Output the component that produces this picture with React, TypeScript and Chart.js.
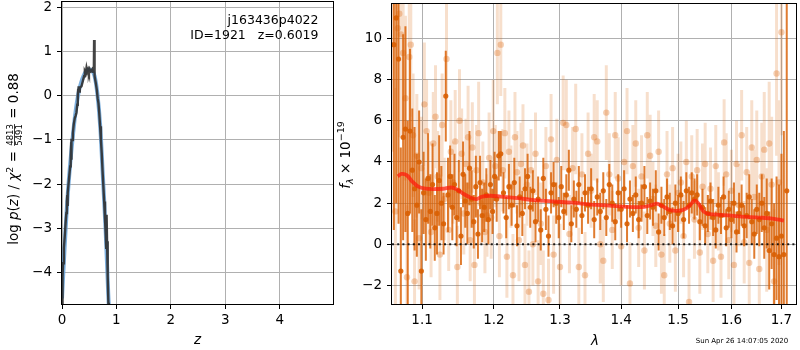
import React, { useEffect, useRef } from "react";
import { Chart, registerables } from "chart.js";
Chart.register(...registerables);

const FAM = "'DejaVu Sans', sans-serif";

// ---------- Left panel: log p(z) ----------
const zTicks = [0, 1, 2, 3, 4];
const logPTicks = [-4, -3, -2, -1, 0, 1, 2];
const zSmooth = [0, 0.05, 0.1, 0.15, 0.2, 0.25, 0.3, 0.35, 0.4, 0.45, 0.5, 0.55, 0.6, 0.65, 0.7, 0.75, 0.8, 0.85, 0.87];
const logPSmooth = [-4.6, -3.4, -2.35, -1.55, -0.9, -0.35, 0.05, 0.3, 0.47, 0.57, 0.6, 0.58, 0.45, 0.05, -0.65, -1.8, -3.0, -4.5, -5.0];
const zNoisy = [
  0.0, 0.01, 0.02, 0.035, 0.05, 0.065, 0.08, 0.09, 0.097, 0.1,
  0.11, 0.12, 0.135, 0.15, 0.16, 0.168, 0.172, 0.176, 0.185, 0.2,
  0.215, 0.235, 0.25, 0.265, 0.28, 0.29, 0.296, 0.305, 0.315, 0.327,
  0.34, 0.358, 0.375, 0.389, 0.405, 0.42, 0.435, 0.45, 0.465, 0.48,
  0.495, 0.51, 0.525, 0.54, 0.555, 0.57, 0.585, 0.59, 0.594, 0.598,
  0.605, 0.62, 0.64, 0.655, 0.67, 0.685, 0.7, 0.715, 0.73, 0.745,
  0.76, 0.775, 0.79, 0.805, 0.812, 0.818, 0.822, 0.828, 0.835, 0.845,
  0.852, 0.86,
];
const logPNoisy = [
  -4.75, -4.1, -3.8, -3.45, -3.2, -2.9, -2.66, -2.4, -2.25, -2.5,
  -2.2, -2.0, -1.8, -1.6, -1.4, -1.05, -1.45, -1.0, -1.0, -0.84,
  -0.65, -0.5, -0.45, -0.38, -0.2, 0.0, 0.14, 0.22, 0.1, 0.18,
  0.2, 0.22, 0.3, 0.37, 0.45, 0.56, 0.52, 0.64, 0.55, 0.6,
  0.52, 0.6, 0.55, 0.56, 0.6, 0.55, 0.58, 1.27, 1.25, 0.56,
  0.45, 0.3, 0.14, -0.05, -0.16, -0.4, -0.69, -1.0, -1.3, -1.7,
  -2.05, -2.4, -2.8, -3.2, -3.45, -2.75, -2.7, -3.3, -3.57, -4.1,
  -4.7, -5.2,
];
const objName = "j163436p4022";
const objInfo = "ID=1921   z=0.6019";

// ---------- Right panel: spectrum ----------
const lamTicks = [1.1, 1.2, 1.3, 1.4, 1.5, 1.6, 1.7];
const fluxTicks = [-2, 0, 2, 4, 6, 8, 10];
const lamDark = [
  1.063, 1.066, 1.069, 1.072, 1.075, 1.078, 1.081, 1.084, 1.087, 1.09,
  1.093, 1.096, 1.099, 1.102, 1.105, 1.108, 1.111, 1.114, 1.117, 1.12,
  1.123, 1.126, 1.129, 1.132, 1.135, 1.138, 1.141, 1.144, 1.147, 1.15,
  1.153, 1.156, 1.159, 1.162, 1.165, 1.168, 1.171, 1.174, 1.177, 1.18,
  1.183, 1.186, 1.189, 1.192, 1.195, 1.198, 1.201, 1.204, 1.207, 1.21,
  1.214, 1.218, 1.222, 1.226, 1.23, 1.234, 1.238, 1.242, 1.246, 1.25,
  1.254, 1.258, 1.262, 1.266, 1.27, 1.274, 1.278, 1.282, 1.286, 1.29,
  1.294, 1.298, 1.302, 1.306, 1.31, 1.314, 1.318, 1.322, 1.326, 1.33,
  1.335, 1.34, 1.345, 1.35, 1.355, 1.36, 1.365, 1.37, 1.375, 1.38,
  1.385, 1.39, 1.395, 1.4, 1.405, 1.41, 1.415, 1.42, 1.425, 1.43,
  1.435, 1.44, 1.445, 1.45, 1.455, 1.46, 1.465, 1.47, 1.475, 1.48,
  1.485, 1.49, 1.495, 1.5, 1.505, 1.51, 1.515, 1.52, 1.525, 1.53,
  1.535, 1.54, 1.545, 1.55, 1.555, 1.56, 1.565, 1.57, 1.575, 1.58,
  1.585, 1.59, 1.595, 1.6, 1.605, 1.61, 1.615, 1.62, 1.625, 1.63,
  1.635, 1.64, 1.645, 1.65, 1.655, 1.66, 1.665, 1.67, 1.675, 1.68,
  1.685, 1.69, 1.695, 1.7, 1.705, 1.711,
];
const fluxDark = [
  9.7, 11.0, 9.0, -1.3, 5.2, 5.6, 1.5, 5.5, 3.6, 2.7,
  1.9, 4.0, -1.3, 2.5, 1.2, 3.2, 1.6, 2.9, 0.8, 1.5,
  3.1, 2.0, 1.0, 7.2, 2.4, 3.3, 1.8, 2.9, 1.3, 2.6,
  0.4, 3.4, 2.1, 1.5, 3.7, 2.2, 1.1, 2.8, 0.5, 3.0,
  1.4, 1.8, 2.4, 1.2, 2.9, 1.6, 3.3, 2.2, 4.3, 4.4,
  2.5, 1.3, 2.8, 1.9, 3.0, 0.9, 2.3, 1.5, 2.7, 3.3,
  1.8, 2.6, 1.1, 2.2, 0.7, 3.2, 1.7, 0.4, 2.5, 2.9,
  2.0, 1.3, 2.8, 1.6, 2.4, 3.6, 1.0, 2.2, 1.7, 2.9,
  1.4, 2.5, 1.9, 2.7, 1.2, 2.3, 1.6, 2.6, 1.3, 2.9,
  2.0, 1.1, 2.5, 1.7, 2.7, 1.0, 2.2, 1.5, 2.4, 1.2,
  2.0, 2.8, 1.4, 2.1, 1.8, 2.6, 0.6, 1.9, 1.3, 2.3,
  1.6, 0.9, 2.0, 1.5, 2.4, 1.2, 2.6, 1.9, 2.5, 2.2,
  2.4, 1.1, 1.8, 0.9, 1.5, 2.1, 1.3, 0.7, 1.9, 1.4,
  2.3, 0.8, 1.7, 1.2, 2.0, 0.6, 1.5, 1.9, 0.9, 1.4,
  2.3, 1.1, 0.5, 1.7, 1.2, 2.0, 0.8, 1.5, -0.3, 1.0,
  -0.5, 0.3, -0.6, 0.4, -0.5, 2.6,
];
const errDark = [
  9, 9, 8, 6, 5, 5, 4.5, 4, 3, 3,
  2.5, 2.5, 3, 2, 2, 2.2, 1.8, 2, 1.6, 2,
  2.2, 1.8, 1.5, 2.2, 1.8, 1.5, 1.6, 1.5, 1.4, 1.5,
  1.4, 1.6, 1.3, 1.5, 1.8, 1.4, 1.3, 1.5, 1.2, 1.3,
  1.3, 1.2, 1.3, 1.2, 1.2, 1.1, 1.2, 1.1, 1.2, 1.1,
  1.0, 1.0, 1.1, 1.0, 1.2, 1.0, 1.0, 1.1, 1.0, 1.1,
  1.0, 1.0, 1.0, 1.1, 1.0, 1.0, 1.0, 1.0, 1.0, 1.1,
  1.0, 1.0, 1.0, 0.9, 1.0, 1.0, 0.9, 0.9, 0.9, 0.9,
  0.9, 0.9, 0.9, 1.0, 0.9, 0.9, 0.9, 0.9, 0.9, 1.0,
  0.9, 0.9, 0.9, 0.9, 0.9, 0.9, 0.9, 0.9, 0.9, 0.9,
  0.9, 1.0, 0.9, 0.9, 0.9, 1.0, 0.9, 0.9, 0.9, 0.9,
  0.9, 0.9, 0.9, 0.9, 0.9, 0.9, 0.9, 0.9, 1.0, 1.0,
  1.0, 0.9, 0.9, 0.9, 0.9, 0.9, 0.9, 0.9, 0.9, 0.9,
  1.0, 0.9, 0.9, 0.9, 1.0, 1.0, 1.0, 1.0, 1.0, 1.1,
  1.1, 1.1, 1.2, 1.2, 1.3, 1.4, 1.5, 1.7, 1.9, 2.2,
  2.5, 3, 3.5, 4, 6, 12,
];
const lamLight = [
  1.062, 1.065, 1.068, 1.07, 1.072, 1.075, 1.078, 1.08, 1.083, 1.085,
  1.088, 1.09, 1.093, 1.096, 1.099, 1.103, 1.106, 1.109, 1.112, 1.115,
  1.118, 1.121, 1.124, 1.127, 1.13, 1.133, 1.136, 1.139, 1.142, 1.145,
  1.148, 1.151, 1.154, 1.157, 1.16, 1.163, 1.166, 1.169, 1.172, 1.175,
  1.178, 1.181, 1.184, 1.187, 1.19, 1.193, 1.196, 1.199, 1.202, 1.205,
  1.208, 1.21, 1.213, 1.216, 1.219, 1.222, 1.225, 1.228, 1.231, 1.234,
  1.237, 1.24, 1.243, 1.246, 1.249, 1.252, 1.255, 1.258, 1.262, 1.266,
  1.27, 1.274, 1.278, 1.282, 1.286, 1.29, 1.295, 1.3, 1.305, 1.31,
  1.315, 1.32, 1.325, 1.33, 1.335, 1.34, 1.345, 1.35, 1.355, 1.36,
  1.365, 1.37, 1.375, 1.38, 1.385, 1.39, 1.395, 1.4, 1.405, 1.41,
  1.415, 1.42, 1.425, 1.43, 1.435, 1.44, 1.445, 1.45, 1.455, 1.46,
  1.465, 1.47, 1.475, 1.48, 1.485, 1.49, 1.495, 1.5, 1.505, 1.51,
  1.515, 1.52, 1.525, 1.53, 1.535, 1.54, 1.545, 1.55, 1.555, 1.56,
  1.565, 1.57, 1.575, 1.58, 1.586, 1.59, 1.595, 1.6, 1.605, 1.61,
  1.615, 1.62, 1.625, 1.63, 1.635, 1.64, 1.645, 1.65, 1.655, 1.66,
  1.665, 1.67, 1.675, 1.68, 1.685, 1.69, 1.695, 1.7,
];
const fluxLight = [
  12.5, 1.6, 10.5, 11.2, 10.2, 9.3, 7.1, -1.6, 9.1, 9.7,
  5.3, -1.8, 4.3, 0.3, 3.7, 6.8, 5.5, 2.5, 0.6, 4.9,
  6.2, 3.3, -0.5, 5.8, 2.2, 9.0, 0.7, 4.5, 3.0, 5.0,
  -1.1, 6.0, 4.4, 1.5, 3.9, 5.2, 0.2, 4.7, -1.0, 3.6,
  5.4, 2.0, 3.0, 0.6, 1.4, 4.2, 1.3, 5.5, 3.8, 9.3,
  0.4, 9.7, 3.6, 5.4, -0.6, 4.5, 2.8, -1.5, 5.2, 3.5,
  0.2, 3.9, 4.8, -1.0, 2.9, -2.3, 3.6, 0.0, 4.4, -1.8,
  1.0, -2.4, 3.8, -2.7, 5.1, -0.5, 4.1, -1.1, 5.9, 5.8,
  0.5, 3.7, 5.6, -1.1, 3.4, -1.5, 4.4, 2.6, 5.2, 5.0,
  0.0, -0.8, 6.4, 3.4, 0.7, 5.3, 3.2, -0.1, 4.0, 5.5,
  -1.9, 3.8, 4.9, 0.8, 3.3, -0.3, 5.3, 4.3, 2.2, 0.9,
  4.5, -0.5, -1.5, 3.4, 1.0, 3.7, -0.3, 2.5, 3.0, 0.4,
  4.0, -2.8, 3.3, 1.2, 3.6, -0.4, 2.8, 3.9, 0.5, 2.7,
  -0.8, 3.8, 1.6, -0.6, 4.95, 3.4, 0.2, 2.6, -1.0, 3.9,
  1.9, 5.3, 0.1, 3.5, -0.9, 4.7, 2.3, 4.1, -1.2, 3.3,
  4.6, 0.7, 4.9, 2.9, -1.8, 8.3, 3.0, 10.3,
];
const errLight = [
  8, 6, 5, 6, 5, 4, 4, 3.5, 3.5, 3.5,
  3, 3, 3, 2.5, 2.5, 3, 2.5, 2.5, 2.2, 2.5,
  2.5, 2.2, 2.2, 2.5, 2, 3, 2, 2.5, 2, 2.5,
  2, 2.5, 2.2, 2, 2.2, 2.5, 2, 2.2, 2, 2.2,
  2.5, 2, 2, 2, 2, 2.2, 2, 2.5, 2, 2.5,
  2, 2.5, 2, 2.2, 2, 2, 2, 2, 2.2, 2,
  2, 2, 2, 2, 2, 2, 2, 2, 2, 2,
  2.0, 2.1, 1.9, 2.0, 2.2, 1.9, 2.0, 2.1, 2.3, 2.2,
  1.9, 2.0, 2.2, 1.9, 2.0, 2.1, 2.0, 1.8, 2.1, 2.0,
  1.9, 2.0, 2.3, 2.0, 1.9, 2.1, 2.0, 1.9, 2.0, 2.1,
  2.0, 2.0, 2.1, 1.9, 2.0, 1.9, 2.1, 2.0, 1.8, 2.0,
  2.0, 1.9, 2.0, 2.1, 1.9, 2.0, 2.0, 1.9, 2.0, 2.0,
  2.0, 2.1, 2.0, 1.9, 2.0, 2.0, 2.1, 2.0, 1.9, 2.0,
  2.0, 2.0, 1.9, 2.0, 2.1, 2.0, 1.9, 2.0, 2.0, 2.1,
  2, 2.2, 2, 2.2, 2.2, 2.3, 2.3, 2.4, 2.5, 2.6,
  2.8, 3, 3, 3.3, 3.5, 4, 4, 5,
];
const lamModel = [
  1.068, 1.073, 1.08, 1.087, 1.095, 1.105, 1.115, 1.128, 1.14, 1.148,
  1.158, 1.168, 1.175, 1.183, 1.195, 1.21, 1.235, 1.26, 1.29, 1.32,
  1.35, 1.38, 1.41, 1.44, 1.452, 1.462, 1.472, 1.486, 1.5, 1.51,
  1.52, 1.53, 1.537, 1.546, 1.556, 1.58, 1.62, 1.655, 1.685, 1.705,
];
const fluxModel = [
  3.3, 3.42, 3.35, 3.05, 2.8, 2.7, 2.68, 2.7, 2.76, 2.65,
  2.42, 2.25, 2.2, 2.32, 2.36, 2.32, 2.24, 2.15, 2.08, 2.02,
  1.93, 1.88, 1.82, 1.82, 1.9, 1.98, 1.85, 1.66, 1.63, 1.68,
  1.85, 2.12, 2.0, 1.62, 1.48, 1.43, 1.35, 1.3, 1.24, 1.15,
];
const zeroLine = [0, 0];
const dateStamp = "Sun Apr 26 14:07:05 2020";

// ---------- helpers ----------
const pts = (xs: number[], ys: number[]) => xs.map((x, i) => ({ x, y: ys[i] }));
function errSegs(xs: number[], ys: number[], es: number[]) {
  const out: any[] = [];
  xs.forEach((x, i) => {
    out.push({ x, y: ys[i] - es[i] }, { x, y: ys[i] + es[i] }, { x, y: null });
  });
  return out;
}
const fmtMinus = (v: any) => String(v).replace("-", "\u2212");

type Part = { t?: string; font: string; dy?: number; frac?: [string, string] };
function drawRich(ctx: CanvasRenderingContext2D, x: number, y: number, rot: number, parts: Part[]) {
  ctx.save();
  ctx.translate(x, y);
  ctx.rotate(rot);
  ctx.textBaseline = "alphabetic";
  ctx.fillStyle = "#000";
  const widths = parts.map((p) => {
    ctx.font = p.font;
    if (p.frac) return Math.max(ctx.measureText(p.frac[0]).width, ctx.measureText(p.frac[1]).width) + 2;
    return ctx.measureText(p.t || "").width;
  });
  const total = widths.reduce((a, b) => a + b, 0);
  let cx = -total / 2;
  parts.forEach((p, i) => {
    ctx.font = p.font;
    if (p.frac) {
      const w = widths[i];
      ctx.textAlign = "center";
      ctx.fillText(p.frac[0], cx + w / 2, -4.8);
      ctx.fillRect(cx + 1, -4.2, w - 2, 0.8);
      ctx.fillText(p.frac[1], cx + w / 2, 3.6);
      ctx.textAlign = "left";
    } else {
      ctx.textAlign = "left";
      ctx.fillText(p.t || "", cx, p.dy || 0);
    }
    cx += widths[i];
  });
  ctx.restore();
}

const F = (s: number) => `${s}px ${FAM}`;
const FI = (s: number) => `italic ${s}px ${FAM}`;

const framePlugin = {
  id: "frame",
  afterDatasetsDraw(chart: any) {
    const { ctx, chartArea: a } = chart;
    ctx.save();
    ctx.strokeStyle = "#000";
    ctx.lineWidth = 1;
    ctx.strokeRect(Math.round(a.left) - 0.5, Math.round(a.top) - 0.5, Math.round(a.right - a.left) + 1, Math.round(a.bottom - a.top) + 1);
    ctx.restore();
  },
};

function axisCommon(ticksArr: number[], fmt: (v: any) => string, pad: number) {
  return {
    afterBuildTicks: (s: any) => {
      s.ticks = ticksArr.map((v) => ({ value: v }));
    },
    ticks: {
      font: { family: FAM, size: 13.5 },
      color: "#000",
      autoSkip: false,
      maxRotation: 0,
      minRotation: 0,
      padding: pad,
      callback: (v: any) => fmt(v),
    },
    grid: { color: "#b0b0b0", lineWidth: 1, tickColor: "#000", tickLength: 5, drawTicks: true },
    border: { display: false },
  };
}

// right canvas starts at page x = RX
const RX = 334;

function leftConfig(): any {
  return {
    type: "scatter",
    data: {
      datasets: [
        {
          data: pts(zNoisy, logPNoisy),
          showLine: true,
          borderColor: "rgba(48,48,48,0.9)",
          borderWidth: 2.4,
          pointRadius: 0,
          tension: 0,
          order: 0,
          clip: 0,
        },
        {
          data: pts(zSmooth, logPSmooth),
          showLine: true,
          borderColor: "rgba(100,160,215,0.85)",
          borderWidth: 4,
          pointRadius: 0,
          tension: 0.4,
          order: 1,
          clip: 0,
        },
      ],
    },
    options: {
      responsive: false,
      animation: false,
      devicePixelRatio: 1,
      layout: { padding: { left: 0, top: 2, right: 7, bottom: 0 } },
      plugins: { legend: { display: false }, tooltip: { enabled: false } },
      scales: {
        x: {
          type: "linear",
          min: 0,
          max: 4.98,
          ...axisCommon(zTicks, fmtMinus, 3),
          afterFit: (s: any) => {
            s.height = 46;
            s.paddingLeft = 0;
            s.paddingRight = 0;
          },
        },
        y: {
          type: "linear",
          min: -4.727,
          max: 2.136,
          ...axisCommon(logPTicks, fmtMinus, 5),
          afterFit: (s: any) => {
            s.width = 62;
            s.paddingTop = 0;
            s.paddingBottom = 0;
          },
        },
      },
    },
    plugins: [
      framePlugin,
      {
        id: "leftText",
        afterDraw(chart: any) {
          const ctx = chart.ctx as CanvasRenderingContext2D;
          ctx.save();
          ctx.fillStyle = "#000";
          ctx.font = F(12.5);
          ctx.textAlign = "right";
          ctx.textBaseline = "alphabetic";
          ctx.fillText(objName, 318.5, 24);
          ctx.fillText(objInfo, 318.5, 39.3);
          ctx.font = FI(13.5);
          ctx.textAlign = "center";
          ctx.fillText("z", 197.5, 344);
          ctx.restore();
          drawRich(ctx, 18.3, 159, -Math.PI / 2, [
            { t: "log ", font: F(13.5) },
            { t: "p", font: FI(13.5) },
            { t: "(", font: F(13.5) },
            { t: "z", font: FI(13.5) },
            { t: ") / ", font: F(13.5) },
            { t: "χ", font: FI(13.5) },
            { t: "2", font: F(9.5), dy: -5.5 },
            { t: " = ", font: F(13.5) },
            { frac: ["4813", "5491"], font: F(8.5) },
            { t: " = 0.88", font: F(13.5) },
          ]);
        },
      },
    ],
  };
}

function rightConfig(): any {
  const orange = "217,95,2";
  return {
    type: "scatter",
    data: {
      datasets: [
        {
          data: pts([1.0606, 1.7303], zeroLine),
          showLine: true,
          borderColor: "rgba(0,0,0,0.85)",
          borderWidth: 2,
          borderDash: [2, 3.2],
          pointRadius: 0,
          order: 0,
          clip: 0,
        },
        {
          data: pts(lamModel, fluxModel),
          showLine: true,
          borderColor: "rgba(255,25,10,0.72)",
          borderWidth: 3.8,
          pointRadius: 0,
          tension: 0.35,
          order: 1,
          clip: 0,
        },
        {
          data: pts(lamDark, fluxDark),
          pointRadius: 2.6,
          pointBackgroundColor: `rgba(${orange},0.9)`,
          pointBorderWidth: 0,
          order: 2,
          clip: 0,
        },
        {
          data: errSegs(lamDark, fluxDark, errDark),
          showLine: true,
          spanGaps: false,
          borderColor: `rgba(${orange},0.82)`,
          borderWidth: 2,
          borderCapStyle: "butt",
          pointRadius: 0,
          order: 3,
          clip: 0,
        },
        {
          data: pts(lamLight, fluxLight),
          pointRadius: 3.2,
          pointBackgroundColor: `rgba(${orange},0.3)`,
          pointBorderWidth: 0,
          order: 4,
          clip: 0,
        },
        {
          data: errSegs(lamLight, fluxLight, errLight),
          showLine: true,
          spanGaps: false,
          borderColor: `rgba(${orange},0.2)`,
          borderWidth: 3,
          borderCapStyle: "butt",
          pointRadius: 0,
          order: 5,
          clip: 0,
        },
      ],
    },
    options: {
      responsive: false,
      animation: false,
      devicePixelRatio: 1,
      layout: { padding: { left: 0, top: 2, right: 1, bottom: 0 } },
      plugins: { legend: { display: false }, tooltip: { enabled: false } },
      scales: {
        x: {
          type: "logarithmic",
          min: 1.0606,
          max: 1.7303,
          ...axisCommon(lamTicks, (v) => Number(v).toFixed(1), 3),
          afterFit: (s: any) => {
            s.height = 46;
            s.paddingLeft = 0;
            s.paddingRight = 0;
          },
        },
        y: {
          type: "linear",
          min: -2.9,
          max: 11.675,
          ...axisCommon(fluxTicks, fmtMinus, 5),
          afterFit: (s: any) => {
            s.width = 392 - RX;
            s.paddingTop = 0;
            s.paddingBottom = 0;
          },
        },
      },
    },
    plugins: [
      framePlugin,
      {
        id: "rightText",
        afterDraw(chart: any) {
          const ctx = chart.ctx as CanvasRenderingContext2D;
          ctx.save();
          ctx.fillStyle = "#000";
          ctx.font = FI(13.5);
          ctx.textAlign = "center";
          ctx.textBaseline = "alphabetic";
          ctx.fillText("λ", 595 - RX, 344.5);
          ctx.font = F(7);
          ctx.fillText(dateStamp, 742 - RX, 342.5);
          ctx.restore();
          drawRich(ctx, 349.5 - RX, 155, -Math.PI / 2, [
            { t: "f", font: FI(13.5) },
            { t: "λ", font: FI(9.5), dy: 3 },
            { t: " × 10", font: F(13.5) },
            { t: "−19", font: F(9.5), dy: -6 },
          ]);
        },
      },
    ],
  };
}

export default function App() {
  const leftRef = useRef<HTMLCanvasElement>(null);
  const rightRef = useRef<HTMLCanvasElement>(null);
  useEffect(() => {
    const c1 = new Chart(leftRef.current as HTMLCanvasElement, leftConfig());
    const c2 = new Chart(rightRef.current as HTMLCanvasElement, rightConfig());
    return () => {
      c1.destroy();
      c2.destroy();
    };
  }, []);
  return (
    <div style={{ position: "absolute", left: 0, top: 0, width: 800, height: 350, background: "#fff" }}>
      <canvas ref={leftRef} width={340} height={350} style={{ position: "absolute", left: 0, top: 0 }} />
      <canvas ref={rightRef} width={800 - RX} height={350} style={{ position: "absolute", left: RX, top: 0 }} />
    </div>
  );
}
